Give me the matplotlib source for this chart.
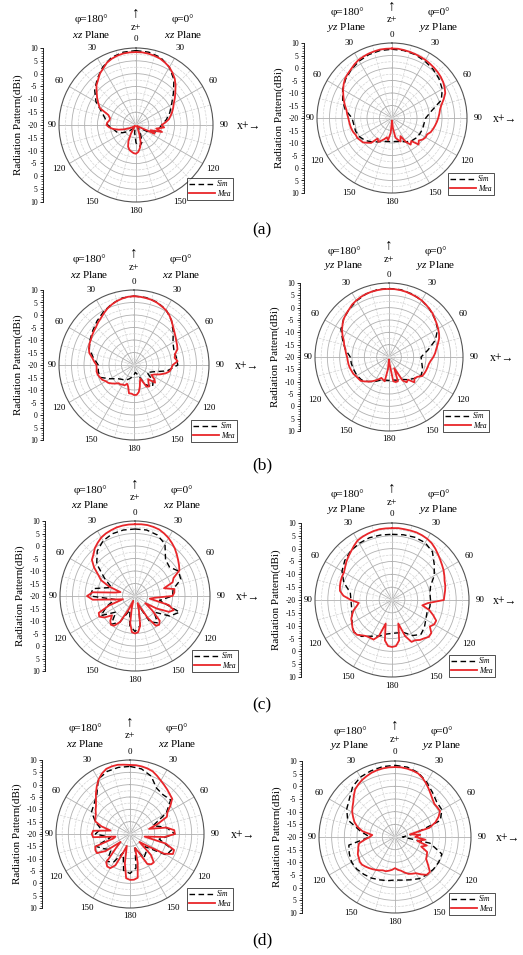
"""
Radiation patterns (xz / yz planes), Sim vs Mea, four cases (a)-(d)
"""
import matplotlib
matplotlib.use('Agg')
import matplotlib.pyplot as plt
from matplotlib.ticker import MultipleLocator, FixedLocator
import numpy as np

plt.rcParams['font.family'] = ['Liberation Serif', 'DejaVu Sans']
plt.rcParams['mathtext.fontset'] = 'custom'
plt.rcParams['mathtext.it'] = 'Liberation Serif:italic'
plt.rcParams['mathtext.rm'] = 'Liberation Serif'

# angles (deg, clockwise from z+)
theta_sim = list(range(0, 360, 10))
theta_mea = list(range(0, 360, 5))

# ---- (a) ----
a_xz_sim = [9, 8.8, 8, 6, 3, -1, -4, -6, -8, -10, -11, -12, -15, -18, -19, -17, -13, -11.5,
            -13, -17, -19, -19, -18, -16, -14, -12, -11, -9, -8, -6, -2, 1, 3.5, 6, 8, 8.8]
a_xz_mea = [8.4, 8.4, 8.2, 7.9, 7.5, 6.8, 6.0, 4.8, 3.5, 1.8, 0, -1.5, -3, -4, -5, -6, -7, -8.5,
            -10, -9, -12, -9.5, -14, -12, -18, -19, -19, -19.5, -19.5, -19.5, -19, -18, -16, -13,
            -11, -9.5, -8.8, -9, -9.5, -10, -11, -13, -16, -18, -19, -19.5, -19.5, -19, -18, -17,
            -15, -13, -11, -9.5, -8.5, -8.8, -9.5, -9.5, -8.5, -4.5, -3, -1.5, 0, 1.8, 3, 4.5,
            5.5, 6.8, 7.5, 8, 8.3, 8.4]
a_yz_sim = [7.5, 7.4, 7, 6.3, 5.5, 4.5, 3.2, 1, -4, -6.5, -7, -7, -7.2, -7.5, -8, -9, -10, -10.5,
            -10.5, -10.5, -10, -9, -7.5, -6, -5, -4.5, -4.5, -4, -1, 1, 2.8, 4.2, 5.3, 6.3, 7, 7.4]
a_yz_mea = [7.8, 7.8, 7.6, 7.4, 7.2, 7, 6.8, 6.5, 6.2, 5.9, 5.5, 5, 4.3, 3.5, 2, 0.5, -0.5, -1,
            -1.5, -2, -2.5, -3, -3.5, -4.5, -4.5, -5, -6, -5, -8, -7, -9, -12, -10, -11, -12, -16,
            -19, -14, -11, -12, -11, -10, -9, -10, -7, -6, -4.8, -4.5, -4, -4, -3.5, -3.2, -3, -2.8,
            -2.5, -2, -1.5, -0.5, 0.5, 1.5, 2.6, 3.6, 4.5, 5, 5.5, 6.2, 6.8, 7.1, 7.4, 7.6, 7.8, 7.8]

# ---- (b) ----
b_xz_sim = [7.6, 7.4, 6.8, 5.6, 3.3, 0.5, -2, -3, -2.8, -2.5, -6.5, -12, -14, -10, -8.5, -11, -16,
            -17, -16, -15, -14, -13, -12.5, -11.5, -9, -5.5, -5.5, -5.7, -3.5, -1, 0.3, 1.5, 3, 4.5,
            6, 7.2]
b_xz_mea = [7.5, 7.4, 7.2, 7, 6.6, 6, 5.4, 4.5, 3.3, 2, 1, 0.2, -0.5, -1, -1.5, -3, -3.5, -2.5,
            -4.5, -5, -5.5, -7, -9, -11, -12, -10, -9, -12, -11, -9.5, -10, -14, -13, -11, -9, -8,
            -8, -8.5, -8.5, -11, -12, -11, -11, -10.5, -10.5, -9.5, -8.5, -7.5, -7, -6, -5.5, -5,
            -4.8, -5, -5, -4, -3, -1.5, -0.8, -0.3, 0, 0.5, 1, 1.5, 2.3, 3, 4, 5, 5.8, 6.5, 7, 7.4]
b_yz_sim = [7.8, 7.7, 7.2, 6.5, 5.5, 4.2, 2.8, 0, -4, -7, -6.5, -5.5, -5, -6.5, -8, -9.5, -10,
            -10.5, -10.5, -10.5, -10, -8.5, -7, -5.5, -5, -4.8, -4.5, -4.3, -2, 0, 2.5, 4, 5.2, 6.3,
            7.2, 7.7]
b_yz_mea = [7.6, 7.6, 7.5, 7.3, 7, 6.8, 6.5, 6, 5.5, 5, 4.2, 3.6, 3, 2.4, 1.6, 0.5, -0.5, -1.2,
            -2, -3, -3.6, -3.8, -4, -4.2, -4.5, -6, -6.5, -5.5, -8, -7.5, -9, -15, -9.5, -9.5, -10,
            -17, -19, -15, -10, -10.5, -11, -10, -9, -8, -7, -6, -5, -4.8, -4.5, -4, -3.8, -3.5,
            -3.3, -3.2, -3, -2.5, -2, -1.2, -0.5, 0.8, 2, 3, 4, 4.6, 5.2, 6, 6.5, 6.9, 7.2, 7.4, 7.5,
            7.6]

# ---- (c) ----
c_xz_sim = [6.8, 6.8, 6, 4, -1, -2, 0, -0.5, -4.5, -5, -10, -1, -4, -10, -6, -8, -16, -8, -5.8,
            -8, -14, -8, -5.2, -10, -4.3, -8, -12, -2, -3, -10, -6, 0, 3.5, 5.5, 6.5, 6.8]
c_xz_mea = [8.7, 8.8, 8.8, 8.6, 8.3, 7.6, 6.8, 5.8, 4.8, 3.6, 2.5, 1.5, 0.5, -3, -4, -8, -4, -4.2,
            -5, -12, -14, -6, -3.5, -5, -10, -15, -11, -6, -5, -5.5, -10, -15, -17, -14, -8, -5.5,
            -5, -5.5, -9, -15, -18, -14, -8, -5.5, -5, -6, -8, -5, -3.5, -4, -9, -15, -12, -3, -0.8,
            -3, -12, -14, -9, -5, -3, 0, 2.5, 3.5, 5, 6, 7, 7.6, 8, 8.4, 8.6, 8.7]
c_yz_sim = [5.6, 5.8, 6, 5.8, 4.5, 1.5, -1, -4, -5, -5, -5, -5.5, -4.8, -3.5, -2.5, -4, -6.5, -7,
            -7, -6.5, -5, -3.7, -1.5, -0.6, -2, -3.5, -4, -4, -3.5, 0, 2.5, 4, 5, 5.5, 5.8, 5.7]
c_yz_mea = [8, 8.1, 8, 8, 8, 7.8, 7.5, 7, 6.2, 5.3, 4.5, 3.8, 3.2, 2.5, 1.8, 1.5, 1, 0.5, 0.2, -6,
            -8, -5, -3, -1, -1, -2, 0, 0.3, -0.5, -1, -1.9, -2, -5, -10.5, -4, -2, -1.7, -2, -4,
            -10.5, -5, -3, -3, -2.8, -2, -0.8, -0.6, -1.2, -2, -2.5, -3.5, -4.5, -6, -7, -4, -1, 0.6,
            1, 1.3, 1.5, 1.6, 2.3, 3.2, 4, 4.8, 5.8, 6.8, 7.2, 7.5, 7.8, 8, 8]

# ---- (d) ----
d_xz_sim = [7.4, 6.8, 5, 1.5, 0.8, 1.5, -3, -10, -5, -1.8, -8, -1.8, -3, -12, -10, -8.8, -14, -6,
            -4, -5, -12, -7, -5.4, -10, -8, -5.3, -12, -6, -8, -5, -2, -1, 0.9, 5.7, 7, 7.4]
d_xz_mea = [8, 8, 7.8, 7.5, 7, 6, 5, 4.2, 3.5, 2.8, 2.3, 0, -2.5, -3.5, -8, -12, -5, -2, -1.8, -6,
            -14, -5, -1, -0.8, -4, -12, -15, -8, -5, -5, -6, -12, -14, -8, -2, -1.4, -1.4, -2, -8,
            -15, -12, -6, -4, -3.9, -5, -12, -15, -8, -4.5, -4.5, -5, -13, -14, -5, -4.5, -5, -12,
            -8, -5, -4.5, -4, -3, -2, -0.5, 1.5, 3.5, 5.5, 7, 8.1, 8.4, 8.5, 8.2]
d_yz_sim = [8.3, 8, 7, 5, 3, 1.5, 1.4, -1, -12, -17, -6, -0.3, -0.1, -0.2, -0.5, -1, -2, -2.7, -3,
            -2.5, -2, -1.3, -0.8, -0.3, -0.2, -0.8, -1.5, -10, -6, -0.1, 2, 3.5, 6, 7.3, 7.8, 8.2]
d_yz_mea = [7.6, 7.6, 7.4, 7.1, 6.7, 5.7, 4.5, 3.2, 2, 1, 0.3, 0.4, 0.5, -1, -3, -6, -14, -10, -12,
            -8, -11, -7, -9, -6, -5.5, -5, -3, -0.5, -0.5, -2, -3.5, -4, -4.5, -5.5, -6.5, -7, -7.7,
            -7, -6.5, -6, -6, -5.5, -5, -4.5, -4, -3.5, -3, -3, -3.5, -3.8, -4.5, -5, -5.6, -8, -10,
            -11, -7, -4.7, -3, -1.8, -0.5, 0.5, 1.5, 3, 4.5, 5.3, 6, 6.5, 7, 7.3, 7.5, 7.6]

angle_labels = ['0', '30', '60', '90', '120', '150', '180', '150', '120', '90', '60', '30']
row_labels = ['(a)', '(b)', '(c)', '(d)']

W, H = 523, 955
RED = '#e8262a'

fig = plt.figure(figsize=(W / 100, H / 100), dpi=100)


def px(x, y):
    return x / W, 1 - y / H


def closed(th, vals):
    return np.deg2rad(th + [360]), vals + [vals[0]]


def draw_panel(cx, cy, R, axis_x, plane, sim, mea, leg_corner):
    ax = fig.add_axes([(cx - R) / W, 1 - (cy + R) / H, 2 * R / W, 2 * R / H], projection='polar')
    ax.set_theta_zero_location('N')
    ax.set_theta_direction(-1)
    ax.set_ylim(-20, 10)
    ax.set_yticks([-15, -10, -5, 0, 5])
    ax.yaxis.set_minor_locator(FixedLocator([-17.5, -12.5, -7.5, -2.5, 2.5, 7.5]))
    ax.set_yticklabels([])
    ax.set_xticks(np.deg2rad(range(0, 360, 30)))
    ax.xaxis.set_minor_locator(FixedLocator(np.deg2rad(range(15, 360, 30))))
    ax.set_xticklabels([])
    ax.grid(True, which='major', color='#b0b0b0', lw=0.6, ls='-')
    ax.grid(True, which='minor', color='#d4d4d4', lw=0.5, ls='--')
    ax.tick_params(which='both', length=0)
    ax.spines['polar'].set_color('#555555')
    ax.spines['polar'].set_linewidth(0.8)

    th, v = closed(theta_sim, sim)
    ax.plot(th, v, color='black', ls=(0, (4, 2.5)), lw=1.0, label='Sim')
    th, v = closed(theta_mea, mea)
    ax.plot(th, v, color=RED, lw=1.3, label='Mea')

    # angle labels around the circle
    for k, lab in enumerate(angle_labels):
        ang = np.deg2rad(30 * k)
        ha = 'center'
        rr = 14.6
        if k in (0, 6):
            rr = 13.4
        elif k == 3:
            rr, ha = 12.6, 'left'
        elif k == 9:
            rr, ha = 10.9, 'right'
        ax.text(ang, rr, lab, ha=ha, va='center', fontsize=6.5, clip_on=False)

    leg = ax.legend(loc='lower right', bbox_to_anchor=px(*leg_corner),
                    bbox_transform=fig.transFigure, fontsize=5.5, frameon=True,
                    fancybox=False, borderpad=0.3, handlelength=3.4, handletextpad=0.3,
                    labelspacing=0.2, borderaxespad=0)
    leg.get_frame().set_edgecolor('black')
    leg.get_frame().set_linewidth(0.6)
    for t in leg.get_texts():
        t.set_fontstyle('italic')

    # linear scale on the left
    lax = fig.add_axes([axis_x / W, 1 - (cy + R) / H, 0.001, 2 * R / H])
    lax.set_ylim(-30, 30)
    lax.set_xticks([])
    lax.set_facecolor('none')
    for s in ('top', 'right', 'bottom'):
        lax.spines[s].set_visible(False)
    lax.spines['left'].set_linewidth(0.6)
    ticks = list(range(-30, 31, 5))
    lax.set_yticks(ticks)
    lax.set_yticklabels([str(abs(t) - 20) for t in ticks], fontsize=5.5)
    lax.yaxis.set_minor_locator(MultipleLocator(1))
    lax.tick_params(axis='y', which='major', length=2.5, width=0.6, pad=1.5)
    lax.tick_params(axis='y', which='minor', length=1.3, width=0.4)
    lax.set_ylabel('Radiation Pattern(dBi)', fontsize=8, labelpad=3)

    # header text
    fig.text(*px(cx - 45, cy - 106), 'φ=180°', ha='center', va='center', fontsize=8)
    fig.text(*px(cx - 45, cy - 91), r'$\mathit{%s}$ Plane' % plane, ha='center', va='center', fontsize=8)
    fig.text(*px(cx + 47, cy - 106), 'φ=0°', ha='center', va='center', fontsize=8)
    fig.text(*px(cx + 47, cy - 91), r'$\mathit{%s}$ Plane' % plane, ha='center', va='center', fontsize=8)
    fig.text(*px(cx, cy - 98), 'z+', ha='center', va='center', fontsize=7.5)
    fig.text(*px(cx, cy - 112), '↑', ha='center', va='center', fontsize=11)
    fig.text(*px(cx + 101, cy + 1), 'x+→', ha='left', va='center', fontsize=8.5)


draw_panel(136, 125, 77, 43, 'xz', a_xz_sim, a_xz_mea, (233, 200))
draw_panel(392, 118, 75, 304, 'yz', a_yz_sim, a_yz_mea, (494, 195))
draw_panel(134, 365, 75, 43, 'xz', b_xz_sim, b_xz_mea, (237, 442))
draw_panel(389, 357, 74, 300, 'yz', b_yz_sim, b_yz_mea, (489, 432))
draw_panel(135, 596, 75, 45, 'xz', c_xz_sim, c_xz_mea, (238, 672))
draw_panel(392, 600, 77, 301, 'yz', c_yz_sim, c_yz_mea, (495, 677))
draw_panel(130, 834, 74, 42, 'xz', d_xz_sim, d_xz_mea, (233, 910))
draw_panel(395, 837, 76, 302, 'yz', d_yz_sim, d_yz_mea, (495, 915))

for lab, y in zip(row_labels, [230, 465, 705, 940]):
    fig.text(*px(262, y), lab, ha='center', va='center', fontsize=12.5)

fig.savefig('out.png', dpi=100)
